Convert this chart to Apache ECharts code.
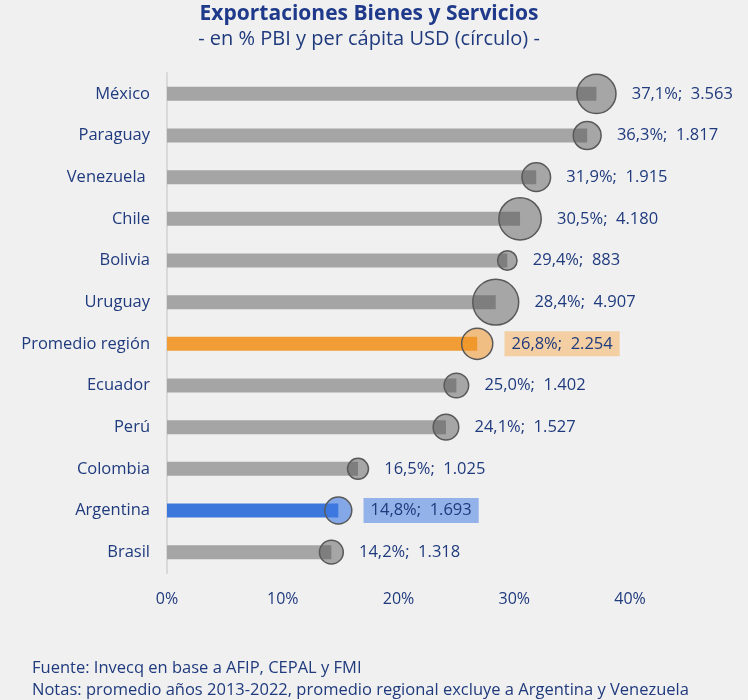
<!DOCTYPE html>
<html>
<head>
<meta charset="utf-8">
<script src="https://cdn.jsdelivr.net/npm/echarts@6/dist/echarts.min.js"></script>
<style>
  html, body { margin: 0; padding: 0; background: #f0f0f0; }
  #chart { width: 748px; height: 700px; }
</style>
</head>
<body>
<div id="chart"></div>
<script>
const categories = ['México', 'Paraguay', 'Venezuela ', 'Chile', 'Bolivia', 'Uruguay', 'Promedio región', 'Ecuador', 'Perú', 'Colombia', 'Argentina', 'Brasil']
const pbiShare = [37.1, 36.3, 31.9, 30.5, 29.4, 28.4, 26.8, 25.0, 24.1, 16.5, 14.8, 14.2]
const perCapitaUsd = [3563, 1817, 1915, 4180, 883, 4907, 2254, 1402, 1527, 1025, 1693, 1318]
const xTicks = [0, 10, 20, 30, 40]

const textBlue = '#1f3a7d'
const highlight = {
  'Promedio región': { bar: '#f19c34', circle: 'rgba(240,150,40,0.55)', box: '#f3cfa3' },
  'Argentina': { bar: '#3c78dc', circle: 'rgba(60,120,225,0.6)', box: '#92b2e9' },
}

function fmtPct(v) { return v.toFixed(1).replace('.', ',') + '%' }
function fmtUsd(v) { return String(v).replace(/\B(?=(\d{3})+(?!\d))/g, '.') }

const chart = echarts.init(document.getElementById('chart'))
chart.setOption({
  backgroundColor: '#f0f0f0',
  animation: false,
  textStyle: { fontFamily: 'Open Sans' },
  title: [
    {
      text: 'Exportaciones Bienes y Servicios',
      left: 364, top: -1, textAlign: 'center',
      textStyle: { fontSize: 21, fontWeight: 'bold', color: '#1f3a8a', fontFamily: 'Open Sans' },
    },
    {
      text: '- en % PBI y per cápita USD (círculo) -',
      left: 364, top: 24, textAlign: 'center',
      textStyle: { fontSize: 20, fontWeight: 'normal', color: textBlue, fontFamily: 'Open Sans' },
    },
    {
      text: 'Fuente: Invecq en base a AFIP, CEPAL y FMI\nNotas: promedio años 2013-2022, promedio regional excluye a Argentina y Venezuela',
      left: 27, top: 652,
      textStyle: { fontSize: 16.5, fontWeight: 'normal', color: textBlue, lineHeight: 22, fontFamily: 'Open Sans' },
    },
  ],
  grid: { left: 167, right: 118, top: 73, bottom: 127 },
  xAxis: {
    type: 'value',
    min: xTicks[0],
    max: xTicks[xTicks.length - 1],
    interval: 10,
    axisLine: { show: false },
    axisTick: { show: false },
    splitLine: { show: false },
    axisLabel: { formatter: '{value}%', color: textBlue, fontSize: 16, margin: 18 },
  },
  yAxis: {
    type: 'category',
    inverse: true,
    data: categories,
    axisLine: { show: true, lineStyle: { color: '#d9d9d9', width: 2 } },
    axisTick: { show: false },
    axisLabel: { color: textBlue, fontSize: 16.5, margin: 17 },
  },
  series: [
    {
      type: 'bar',
      barWidth: 14,
      data: pbiShare.map((v, i) => ({
        value: v,
        itemStyle: { color: highlight[categories[i]] ? highlight[categories[i]].bar : '#a5a5a5' },
      })),
      z: 2,
    },
    {
      type: 'scatter',
      z: 3,
      symbolSize: (val) => 0.655 * Math.sqrt(val[2]),
      itemStyle: { color: 'rgba(83,83,83,0.47)', borderColor: '#595959', borderWidth: 1.5, opacity: 1 },
      label: {
        show: true,
        position: 'right',
        distance: 15,
        color: textBlue,
        fontSize: 16.5,
        formatter: (p) => fmtPct(p.value[0]) + ';  ' + fmtUsd(p.value[2]),
      },
      data: pbiShare.map((v, i) => {
        const h = highlight[categories[i]]
        const item = { value: [v, categories[i], perCapitaUsd[i]] }
        if (h) {
          item.itemStyle = { color: h.circle }
          item.label = { backgroundColor: h.box, padding: [4, 7, 4, 7], distance: 11 }
        }
        return item
      }),
    },
  ],
})
</script>
</body>
</html>
